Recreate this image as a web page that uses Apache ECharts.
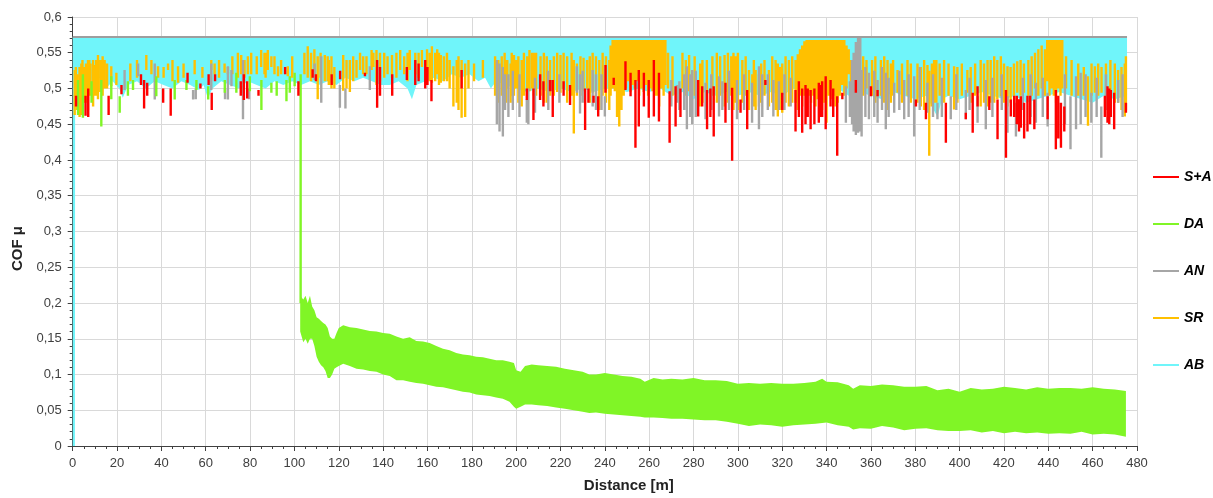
<!DOCTYPE html>
<html>
<head>
<meta charset="utf-8">
<script src="https://cdn.jsdelivr.net/npm/echarts@6/dist/echarts.min.js"></script>
<style>
  html, body { margin: 0; padding: 0; background: #fff; }
  #chart { width: 1213px; height: 498px; }
</style>
</head>
<body>
<div id="chart"></div>
<script>
// x ticks / y ticks
const xTicks = [0, 480, 20];
const yTicks = [0, 0.6, 0.05];

// AB: cyan band from the noisy lower edge up to the saturation level
const abTop = 0.572;
const abEdge = [
  [0, 0], [1, 0], [1.1, 0.52], [3, 0.515], [6, 0.52], [9, 0.505], [12, 0.515], [15, 0.5], [18, 0.51],
  [21, 0.5], [22.6, 0.487], [25, 0.505], [29, 0.51], [33, 0.5], [37, 0.51], [41, 0.505], [45, 0.5],
  [49, 0.51], [53, 0.505], [57, 0.498], [59, 0.505], [61, 0.486], [63, 0.5], [67, 0.51], [71, 0.505],
  [75, 0.5], [79, 0.51], [83, 0.505], [87, 0.5], [91, 0.51], [95, 0.505], [99, 0.51], [103, 0.505],
  [107, 0.51], [111, 0.505], [115, 0.51], [119, 0.505], [123, 0.515], [127, 0.51], [131, 0.515],
  [135, 0.51], [139, 0.505], [143, 0.505], [147, 0.51], [151, 0.5], [153, 0.485], [155, 0.505],
  [159, 0.51], [163, 0.515], [167, 0.51], [171, 0.52], [175, 0.515], [179, 0.52], [183, 0.51],
  [186, 0.515], [188.6, 0.5], [191, 0.51], [195, 0.505], [200, 0.5], [205, 0.495], [210, 0.5],
  [215, 0.495], [220, 0.5], [225, 0.495], [230, 0.5], [235, 0.495], [240, 0.5], [245, 0.5], [250, 0.495],
  [255, 0.5], [260, 0.495], [265, 0.5], [270, 0.49], [275, 0.495], [280, 0.485], [285, 0.495],
  [290, 0.49], [295, 0.495], [300, 0.49], [305, 0.495], [310, 0.49], [315, 0.495], [320, 0.49],
  [325, 0.5], [330, 0.495], [335, 0.5], [340, 0.495], [345, 0.5], [350, 0.49], [355, 0.495], [360, 0.49],
  [365, 0.485], [370, 0.495], [375, 0.49], [380, 0.485], [385, 0.49], [390, 0.46], [392, 0.485],
  [395, 0.49], [400, 0.485], [405, 0.49], [410, 0.495], [415, 0.49], [420, 0.485], [425, 0.49],
  [430, 0.48], [435, 0.485], [440, 0.49], [445, 0.495], [450, 0.49], [455, 0.485], [460, 0.48],
  [465, 0.49], [470, 0.485], [475.5, 0.49]
];

// spikes: [x, top, bottom]
const saSpikes = [
  [1.5, 0.49, 0.475], [5.8, 0.49, 0.462], [7, 0.5, 0.46], [16.2, 0.49, 0.463], [22, 0.505, 0.492],
  [30.8, 0.52, 0.505], [32.2, 0.512, 0.472], [33.6, 0.508, 0.49], [40.8, 0.5, 0.48], [44.2, 0.5, 0.462],
  [51.8, 0.522, 0.508], [57.6, 0.507, 0.5], [61.3, 0.52, 0.505], [62.7, 0.494, 0.47], [64.2, 0.52, 0.51],
  [75.8, 0.51, 0.49], [77.2, 0.52, 0.484], [78.7, 0.51, 0.486], [83.8, 0.498, 0.49], [95.8, 0.53, 0.52],
  [101.8, 0.51, 0.49], [108.2, 0.527, 0.515], [109.7, 0.52, 0.51], [116.8, 0.52, 0.505],
  [120.6, 0.525, 0.513], [131.8, 0.522, 0.517], [137.3, 0.54, 0.473], [138.6, 0.53, 0.49],
  [144.1, 0.52, 0.49], [150.7, 0.53, 0.512], [154.5, 0.54, 0.505], [156, 0.535, 0.51], [159, 0.54, 0.5],
  [160, 0.53, 0.505], [161.8, 0.512, 0.482], [175.4, 0.526, 0.5], [204.8, 0.5, 0.484], [207.8, 0.5, 0.456],
  [210.8, 0.52, 0.484], [212.3, 0.51, 0.475], [215.3, 0.512, 0.496], [216.5, 0.512, 0.46],
  [221.4, 0.51, 0.49], [224.3, 0.505, 0.477], [231.1, 0.5, 0.442], [232.6, 0.5, 0.48], [234.9, 0.49, 0.48],
  [237, 0.489, 0.461], [240.3, 0.533, 0.494], [244, 0.515, 0.505], [249.3, 0.538, 0.498],
  [251.6, 0.522, 0.489], [253.8, 0.512, 0.417], [255.3, 0.526, 0.447], [257.6, 0.522, 0.475],
  [259.8, 0.512, 0.459], [262.1, 0.54, 0.461], [264.4, 0.522, 0.454], [269.2, 0.496, 0.424],
  [271.9, 0.503, 0.447], [274.1, 0.5, 0.46], [282.1, 0.512, 0.461], [283.9, 0.503, 0.475],
  [286.1, 0.498, 0.443], [287.6, 0.5, 0.46], [289.1, 0.503, 0.433], [294.4, 0.508, 0.452],
  [297.4, 0.501, 0.399], [301.2, 0.4845, 0.466], [304.2, 0.498, 0.443], [312.4, 0.512, 0.505],
  [320, 0.494, 0.47], [326, 0.498, 0.44], [327.5, 0.51, 0.46], [329, 0.5, 0.438], [330.5, 0.505, 0.45],
  [331.5, 0.5, 0.46], [332.8, 0.498, 0.443], [334.5, 0.5, 0.45], [336.5, 0.508, 0.452], [337.2, 0.505, 0.46],
  [338, 0.51, 0.46], [339.6, 0.517, 0.443], [341.8, 0.512, 0.475], [343, 0.5, 0.46], [344.8, 0.489, 0.406],
  [347.1, 0.494, 0.485], [353.2, 0.512, 0.494],
  [360, 0.503, 0.489], [363, 0.498, 0.489], [380.3, 0.4845, 0.475], [384.8, 0.48, 0.457],
  [393.8, 0.48, 0.424], [402.8, 0.466, 0.457], [405.9, 0.494, 0.438], [408.1, 0.503, 0.475],
  [413.4, 0.489, 0.47], [417.1, 0.4845, 0.429], [420.9, 0.498, 0.403], [423.1, 0.4845, 0.461],
  [424.6, 0.49, 0.46], [425.8, 0.49, 0.45], [426.8, 0.485, 0.44], [427.6, 0.489, 0.445], [429.1, 0.48, 0.43],
  [430.6, 0.49, 0.44], [431.8, 0.49, 0.45], [433.7, 0.4845, 0.443], [439.7, 0.489, 0.457],
  [443.4, 0.498, 0.415], [444.5, 0.49, 0.43], [445.7, 0.48, 0.417], [447.2, 0.475, 0.44],
  [465.5, 0.49, 0.46], [466.7, 0.503, 0.452], [467.5, 0.5, 0.45], [468.2, 0.498, 0.46], [469.7, 0.494, 0.443],
  [475, 0.48, 0.466]
];

const daSpikes = [
  [2.4, 0.512, 0.463], [4.6, 0.52, 0.459], [8.5, 0.51, 0.48], [12.9, 0.512, 0.447], [17.4, 0.517, 0.485],
  [21.2, 0.489, 0.466], [24.9, 0.51, 0.49], [27.2, 0.512, 0.498], [37.7, 0.517, 0.489], [46, 0.512, 0.4845],
  [51.3, 0.512, 0.498], [55.8, 0.512, 0.498], [61.1, 0.503, 0.4845], [68.6, 0.512, 0.494],
  [73.8, 0.522, 0.494], [79.9, 0.517, 0.496], [85.1, 0.512, 0.47], [89.6, 0.508, 0.494], [92, 0.51, 0.49],
  [96.4, 0.512, 0.482], [97.9, 0.517, 0.494], [100.1, 0.522, 0.503], [102.8, 0.52, 0.2]
];

// DA after the drop: [x, upper, lower] of the dense oscillation
const daBand = [
  [102.6, 0.21, 0.16], [104, 0.205, 0.145], [105, 0.21, 0.15], [106, 0.2, 0.143], [107, 0.21, 0.15],
  [108, 0.195, 0.15], [109, 0.19, 0.14], [110, 0.18, 0.125], [111, 0.178, 0.118], [112, 0.175, 0.113],
  [113, 0.172, 0.11], [114, 0.17, 0.105], [115, 0.165, 0.095], [116, 0.153, 0.095], [117, 0.15, 0.1],
  [118, 0.15, 0.108], [119, 0.158, 0.11], [120, 0.165, 0.112], [122, 0.169, 0.115], [125, 0.166, 0.112],
  [128, 0.165, 0.108], [131, 0.163, 0.107], [134, 0.161, 0.105], [137, 0.16, 0.104], [140, 0.158, 0.1],
  [143, 0.157, 0.098], [146, 0.153, 0.092], [149, 0.15, 0.092], [152, 0.152, 0.09], [155, 0.147, 0.088],
  [158, 0.146, 0.087], [161, 0.144, 0.085], [164, 0.14, 0.083], [167, 0.136, 0.082], [170, 0.134, 0.08],
  [173, 0.13, 0.078], [176, 0.128, 0.076], [179, 0.127, 0.075], [182, 0.125, 0.072], [185, 0.124, 0.071],
  [188, 0.122, 0.07], [191, 0.12, 0.068], [194, 0.12, 0.066], [197, 0.118, 0.062], [199, 0.116, 0.055],
  [200, 0.106, 0.052], [202, 0.104, 0.055], [204, 0.112, 0.058], [207, 0.114, 0.058], [210, 0.113, 0.057],
  [214, 0.112, 0.056], [218, 0.111, 0.054], [222, 0.108, 0.052], [226, 0.106, 0.05], [230, 0.104, 0.048],
  [233, 0.1, 0.046], [236, 0.1, 0.047], [240, 0.102, 0.045], [244, 0.1, 0.044], [248, 0.098, 0.043],
  [252, 0.097, 0.042], [256, 0.094, 0.041], [258, 0.09, 0.04], [262, 0.095, 0.04], [266, 0.093, 0.039],
  [270, 0.094, 0.038], [275, 0.093, 0.038], [280, 0.095, 0.037], [285, 0.092, 0.036], [290, 0.092, 0.036],
  [295, 0.091, 0.034], [300, 0.087, 0.031], [305, 0.088, 0.028], [310, 0.087, 0.03], [315, 0.088, 0.029],
  [320, 0.087, 0.027], [325, 0.087, 0.029], [330, 0.088, 0.03], [335, 0.09, 0.031], [338, 0.094, 0.032],
  [340, 0.09, 0.033], [345, 0.089, 0.029], [350, 0.085, 0.027], [352, 0.08, 0.023], [355, 0.085, 0.025],
  [360, 0.084, 0.024], [365, 0.086, 0.028], [370, 0.085, 0.026], [375, 0.083, 0.022], [380, 0.083, 0.024],
  [385, 0.084, 0.025], [390, 0.078, 0.022], [395, 0.08, 0.021], [400, 0.076, 0.021], [405, 0.081, 0.022],
  [410, 0.079, 0.019], [415, 0.08, 0.021], [420, 0.083, 0.018], [425, 0.081, 0.02], [430, 0.079, 0.018],
  [435, 0.082, 0.019], [440, 0.08, 0.017], [445, 0.081, 0.018], [450, 0.081, 0.017], [455, 0.08, 0.02],
  [460, 0.082, 0.016], [465, 0.08, 0.017], [470, 0.079, 0.016], [475, 0.077, 0.013]
];

const anSpikes = [
  [23.4, 0.526, 0.498], [29.5, 0.535, 0.517], [37, 0.535, 0.4845], [54.3, 0.498, 0.4845], [55.5, 0.5, 0.485],
  [62.5, 0.535, 0.498], [68.7, 0.5, 0.485], [70, 0.531, 0.4845], [71.6, 0.526, 0.503], [76.8, 0.54, 0.457],
  [79.5, 0.5, 0.485], [109.1, 0.535, 0.512], [112.1, 0.545, 0.48], [123, 0.5, 0.472], [120.5, 0.505, 0.473],
  [134, 0.531, 0.498], [191.3, 0.54, 0.45], [192.5, 0.535, 0.44], [194, 0.53, 0.433], [195, 0.52, 0.47],
  [196.5, 0.52, 0.46], [198.5, 0.525, 0.47], [201.5, 0.52, 0.46], [204.8, 0.4845, 0.452], [205.5, 0.5, 0.45],
  [208.5, 0.515, 0.466], [214.5, 0.525, 0.47], [219.5, 0.52, 0.48], [227.4, 0.531, 0.494],
  [228.8, 0.52, 0.465], [230, 0.525, 0.48], [234.5, 0.526, 0.475], [236, 0.52, 0.47], [238.5, 0.52, 0.47],
  [240, 0.489, 0.461], [270, 0.512, 0.475], [272.5, 0.505, 0.48], [273.6, 0.51, 0.47], [275.8, 0.52, 0.47],
  [277, 0.531, 0.443], [278.5, 0.52, 0.46], [279.4, 0.526, 0.45], [281, 0.525, 0.46], [285.4, 0.508, 0.457],
  [288, 0.52, 0.47], [291.5, 0.517, 0.461], [293, 0.51, 0.47], [296, 0.525, 0.47], [299.6, 0.512, 0.457],
  [302.8, 0.52, 0.47], [306.4, 0.508, 0.452], [309.5, 0.531, 0.443], [311, 0.52, 0.46], [313.5, 0.52, 0.47],
  [316, 0.512, 0.461], [318.5, 0.51, 0.47], [321, 0.52, 0.47], [323.8, 0.515, 0.475],
  [348.7, 0.503, 0.452], [350.5, 0.51, 0.46], [351.5, 0.54, 0.45], [352.2, 0.55, 0.44], [353.2, 0.565, 0.435],
  [354.2, 0.572, 0.438], [355.2, 0.572, 0.44], [355.8, 0.526, 0.433], [357.5, 0.53, 0.46],
  [359.1, 0.522, 0.457], [361.5, 0.525, 0.46], [363, 0.512, 0.452], [365, 0.53, 0.47], [366.7, 0.522, 0.443],
  [368, 0.515, 0.46], [370.5, 0.508, 0.466], [372.8, 0.525, 0.47], [375, 0.512, 0.457], [377, 0.52, 0.46],
  [379.5, 0.517, 0.433], [382, 0.53, 0.47], [385.5, 0.508, 0.466], [388, 0.52, 0.46], [390, 0.48, 0.457],
  [392, 0.515, 0.46], [396, 0.489, 0.457], [398.5, 0.52, 0.47], [402.8, 0.498, 0.457], [404.5, 0.515, 0.47],
  [408.1, 0.489, 0.452], [411.8, 0.512, 0.443], [414.8, 0.515, 0.46], [419, 0.52, 0.47], [421.6, 0.489, 0.438],
  [425.4, 0.48, 0.433], [428.5, 0.515, 0.47], [432, 0.52, 0.46], [434.4, 0.508, 0.452], [437.5, 0.515, 0.46],
  [439.7, 0.494, 0.447], [447.5, 0.52, 0.45], [450, 0.489, 0.415], [452.5, 0.517, 0.443],
  [454.6, 0.522, 0.45], [456.8, 0.52, 0.46], [459.4, 0.494, 0.452], [461.8, 0.515, 0.46],
  [463.9, 0.475, 0.403], [466, 0.52, 0.47], [471.5, 0.512, 0.48], [473.5, 0.52, 0.46]
];
// AN also sits at the saturation level along the whole run
const anTop = [[0, 0.572], [475.5, 0.572]];

const srSpikes = [
  [0.9, 0.526, 0.463], [1.4, 0.53, 0.49], [2, 0.52, 0.47], [3.1, 0.53, 0.46], [3.9, 0.535, 0.463],
  [4.4, 0.54, 0.47], [5, 0.53, 0.48], [6, 0.535, 0.48], [6.9, 0.54, 0.47], [7.5, 0.54, 0.49], [8, 0.535, 0.49],
  [9.2, 0.54, 0.475], [9.9, 0.533, 0.49], [10.6, 0.54, 0.49], [11.4, 0.547, 0.485], [12.5, 0.54, 0.495],
  [13.5, 0.545, 0.49], [14.4, 0.54, 0.5], [15.5, 0.535, 0.5], [17.4, 0.531, 0.503], [19.7, 0.522, 0.505],
  [26, 0.535, 0.51], [29, 0.54, 0.515], [33.2, 0.547, 0.526], [35.5, 0.54, 0.52], [38.5, 0.531, 0.515],
  [41, 0.53, 0.515], [43, 0.535, 0.526], [45, 0.54, 0.51], [47.5, 0.531, 0.508], [50, 0.535, 0.515],
  [55, 0.54, 0.52], [58.5, 0.53, 0.515], [62.5, 0.54, 0.526], [64, 0.535, 0.52], [66, 0.54, 0.515],
  [68.5, 0.535, 0.522], [70, 0.53, 0.52], [72, 0.545, 0.52], [74.5, 0.55, 0.515], [76, 0.547, 0.52],
  [77.5, 0.54, 0.515], [79, 0.545, 0.52], [80.5, 0.55, 0.52], [83, 0.545, 0.52], [85, 0.554, 0.53],
  [86.5, 0.55, 0.52], [87, 0.55, 0.515], [88, 0.554, 0.526], [89.6, 0.545, 0.53], [91, 0.545, 0.52],
  [92.6, 0.531, 0.517], [94, 0.54, 0.52], [97, 0.531, 0.517], [99, 0.545, 0.515], [104.5, 0.55, 0.52],
  [106, 0.559, 0.515], [107.5, 0.55, 0.51], [109, 0.555, 0.52], [110.5, 0.545, 0.485], [111.8, 0.55, 0.515],
  [113.7, 0.547, 0.51], [115, 0.545, 0.51], [115.5, 0.54, 0.505], [116.7, 0.545, 0.5], [118, 0.53, 0.5],
  [122, 0.547, 0.497], [123.5, 0.54, 0.5], [125, 0.54, 0.495], [126.5, 0.545, 0.51], [128, 0.54, 0.515],
  [129.6, 0.55, 0.526], [131, 0.545, 0.52], [132.5, 0.545, 0.52], [134.8, 0.554, 0.526], [135.6, 0.55, 0.53],
  [137, 0.554, 0.505], [138.6, 0.55, 0.51], [140.5, 0.55, 0.515], [142, 0.545, 0.52], [144, 0.547, 0.515],
  [146, 0.55, 0.515], [147.7, 0.554, 0.526], [149.5, 0.545, 0.52], [151, 0.55, 0.51], [152, 0.554, 0.526],
  [154.5, 0.55, 0.52], [156, 0.55, 0.515], [157.5, 0.554, 0.53], [159.8, 0.555, 0.52], [161, 0.55, 0.51],
  [162, 0.559, 0.508], [163.5, 0.55, 0.51], [164.4, 0.555, 0.52], [165.2, 0.55, 0.505], [166, 0.547, 0.508],
  [167.4, 0.545, 0.51], [168.8, 0.55, 0.51], [170, 0.54, 0.5], [171.7, 0.531, 0.475], [173.2, 0.54, 0.48],
  [174, 0.545, 0.47], [175.4, 0.54, 0.459], [177, 0.535, 0.46], [178.5, 0.54, 0.5], [181, 0.535, 0.51],
  [185, 0.54, 0.515], [190.5, 0.545, 0.49], [192, 0.54, 0.48], [193.5, 0.545, 0.49], [194.8, 0.55, 0.47],
  [195.5, 0.54, 0.48], [196, 0.54, 0.5], [197.5, 0.535, 0.48], [198, 0.55, 0.49], [199, 0.547, 0.49],
  [200, 0.54, 0.5], [201, 0.545, 0.48], [202.5, 0.54, 0.475], [203.5, 0.55, 0.49], [205, 0.545, 0.48],
  [206, 0.554, 0.496], [207.2, 0.55, 0.5], [208, 0.55, 0.49], [209, 0.55, 0.49], [211, 0.545, 0.49],
  [212.5, 0.55, 0.48], [213.8, 0.545, 0.48], [215.3, 0.54, 0.49], [217, 0.545, 0.49], [218.5, 0.55, 0.495],
  [220, 0.547, 0.494], [221.4, 0.55, 0.5], [223, 0.545, 0.48], [225, 0.55, 0.49], [226, 0.54, 0.437],
  [227.4, 0.535, 0.49], [229, 0.545, 0.49], [230.4, 0.543, 0.496], [232, 0.54, 0.5], [233.2, 0.545, 0.48],
  [234.5, 0.55, 0.494], [236, 0.545, 0.48], [237.5, 0.54, 0.47], [239, 0.55, 0.49], [240.5, 0.545, 0.48],
  [242, 0.54, 0.47],
  [242.6, 0.56, 0.49], [243.5, 0.568, 0.5], [244.5, 0.568, 0.496], [245.5, 0.568, 0.46], [246.5, 0.568, 0.447],
  [247.5, 0.568, 0.47], [248.5, 0.568, 0.49], [249.5, 0.568, 0.5], [250.5, 0.568, 0.51], [251.5, 0.568, 0.495],
  [252.5, 0.568, 0.505], [253.5, 0.568, 0.5], [254.5, 0.568, 0.51], [255.5, 0.568, 0.49], [256.5, 0.568, 0.5],
  [257.5, 0.568, 0.495], [258.5, 0.568, 0.505], [259.5, 0.568, 0.49], [260.5, 0.568, 0.5], [261.5, 0.568, 0.496],
  [262.5, 0.568, 0.49], [263.5, 0.568, 0.49], [264.5, 0.568, 0.475], [265.5, 0.568, 0.5], [266.5, 0.568, 0.49],
  [267.3, 0.568, 0.505],
  [268.5, 0.55, 0.5], [270.5, 0.545, 0.49], [275, 0.55, 0.5], [276.5, 0.54, 0.49], [278, 0.547, 0.496],
  [280.5, 0.545, 0.49], [283, 0.535, 0.475], [284, 0.54, 0.48], [286, 0.54, 0.48], [288.5, 0.545, 0.49],
  [290.5, 0.55, 0.48], [292, 0.545, 0.49], [294, 0.547, 0.475], [295.5, 0.55, 0.48], [297, 0.545, 0.49],
  [298, 0.55, 0.47], [299, 0.545, 0.48], [300, 0.55, 0.47], [302, 0.54, 0.48], [303.5, 0.545, 0.49],
  [305, 0.526, 0.47], [306.5, 0.52, 0.475], [307.2, 0.54, 0.475], [308, 0.526, 0.47], [309.5, 0.52, 0.475],
  [310.5, 0.535, 0.48], [312, 0.54, 0.49], [314, 0.526, 0.475], [315.5, 0.545, 0.48], [317, 0.54, 0.47],
  [318, 0.535, 0.461], [319, 0.53, 0.47], [320, 0.535, 0.466], [321.5, 0.545, 0.48], [323, 0.54, 0.475],
  [324.5, 0.545, 0.48],
  [326, 0.54, 0.48], [327, 0.548, 0.47], [328, 0.555, 0.49], [329, 0.56, 0.475], [330, 0.566, 0.49],
  [331, 0.568, 0.47], [332, 0.568, 0.49], [333, 0.568, 0.48], [334, 0.568, 0.49], [335, 0.568, 0.475],
  [336, 0.568, 0.485], [337, 0.568, 0.49], [338, 0.568, 0.47], [339, 0.568, 0.48], [340, 0.568, 0.452],
  [341, 0.568, 0.49], [342, 0.568, 0.485], [343, 0.568, 0.49], [344, 0.568, 0.475], [345, 0.568, 0.48],
  [346, 0.568, 0.49], [347, 0.568, 0.505], [348, 0.568, 0.49], [349, 0.56, 0.5], [350, 0.555, 0.52],
  [351, 0.54, 0.5], [356.5, 0.545, 0.49], [358, 0.54, 0.5], [360.5, 0.54, 0.49], [362, 0.545, 0.48],
  [364.5, 0.54, 0.49], [366, 0.545, 0.48], [367.5, 0.54, 0.47], [369, 0.535, 0.48], [370, 0.54, 0.49],
  [372, 0.526, 0.494], [374, 0.535, 0.48], [376.5, 0.54, 0.49], [378, 0.535, 0.48], [381, 0.535, 0.48],
  [382.5, 0.53, 0.475], [384, 0.54, 0.47], [385.5, 0.533, 0.47], [386.3, 0.525, 0.406], [387.5, 0.535, 0.475],
  [388.5, 0.54, 0.48], [389.5, 0.54, 0.48], [391, 0.535, 0.49], [393, 0.54, 0.48], [395, 0.535, 0.49],
  [397.5, 0.531, 0.4706], [399, 0.53, 0.48], [401, 0.535, 0.49], [403.5, 0.526, 0.494], [405, 0.53, 0.48],
  [407, 0.535, 0.49], [409.5, 0.54, 0.475], [411, 0.535, 0.48], [412.6, 0.54, 0.475], [414, 0.54, 0.48],
  [415.6, 0.545, 0.48], [417, 0.54, 0.485], [418.6, 0.545, 0.489], [420, 0.535, 0.48], [421.6, 0.531, 0.475],
  [423, 0.53, 0.48], [424.5, 0.535, 0.49], [426, 0.538, 0.494], [427.5, 0.54, 0.49], [429, 0.535, 0.494],
  [431, 0.54, 0.49], [432.5, 0.545, 0.49], [434, 0.55, 0.5], [435.5, 0.555, 0.49], [437, 0.56, 0.5],
  [438.5, 0.555, 0.49],
  [439.5, 0.568, 0.51], [440.5, 0.568, 0.49], [441.5, 0.568, 0.5], [442.5, 0.568, 0.49], [443.5, 0.568, 0.48],
  [444.5, 0.568, 0.5], [445.5, 0.568, 0.49], [446.3, 0.568, 0.5],
  [448, 0.545, 0.5], [450.5, 0.54, 0.49], [453.5, 0.535, 0.49], [456, 0.53, 0.49], [457.9, 0.517, 0.448],
  [459.5, 0.535, 0.49], [461, 0.531, 0.494], [462.5, 0.535, 0.49], [464, 0.53, 0.494], [466, 0.535, 0.49],
  [468, 0.54, 0.49], [470, 0.535, 0.48], [471.5, 0.526, 0.48], [473, 0.53, 0.47], [474.5, 0.535, 0.461],
  [475, 0.545, 0.47]
];

const colors = { sa: '#FF0000', da: '#80F526', an: '#A6A6A6', sr: '#FFC000', ab: '#70F5FA' };

// each spike is a vertical segment, broken from the next one with an empty value
function toSegments(list) {
  const out = [];
  list.forEach(s => {
    out.push([s[0], s[1]], [s[0], s[2]], [s[0], '-']);
  });
  return out;
}

function spikeSeries(name, list, color) {
  return {
    name: name,
    type: 'line',
    data: toSegments(list),
    showSymbol: false,
    connectNulls: false,
    color: color,
    lineStyle: { color: color, width: 2.4 },
  };
}

// filled band: the outline goes along the top edge and back along the bottom edge
function bandSeries(name, data, topOf, bottomOf, color) {
  return {
    name: name,
    type: 'custom',
    color: color,
    itemStyle: { color: color },
    clip: true,
    data: data.map(p => [p[0], topOf(p), bottomOf(p)]),
    encode: { x: 0, y: [1, 2] },
    renderItem: function (params, api) {
      if (params.dataIndex !== 0) return;
      const upper = data.map(p => api.coord([p[0], topOf(p)]));
      const lower = data.map(p => api.coord([p[0], bottomOf(p)])).reverse();
      return {
        type: 'polygon',
        shape: { points: upper.concat(lower) },
        style: { fill: color, stroke: null },
      };
    },
  };
}

const chart = echarts.init(document.getElementById('chart'));

const option = {
  animation: false,
  grid: { left: 72.7, right: 76, top: 17, bottom: 50 },
  legend: {
    data: ['S+A', 'DA', 'AN', 'SR', 'AB'],
    orient: 'vertical',
    left: 1148,
    top: 165,
    icon: 'rect',
    itemWidth: 26,
    itemHeight: 2,
    itemGap: 33,
    textStyle: { fontFamily: 'Liberation Sans', fontSize: 14, fontWeight: 'bold', fontStyle: 'italic', color: '#000' },
  },
  xAxis: {
    type: 'value',
    min: xTicks[0],
    max: xTicks[1],
    interval: xTicks[2],
    name: 'Distance [m]',
    nameLocation: 'middle',
    nameGap: 32,
    nameTextStyle: { fontFamily: 'Liberation Sans', fontSize: 15, fontWeight: 'bold', color: '#222', padding: [0, 0, 0, 48] },
    axisLine: { lineStyle: { color: '#404040', width: 1 } },
    axisTick: { length: 5, lineStyle: { color: '#404040' } },
    minorTick: { show: true, splitNumber: 4, length: 3, lineStyle: { color: '#404040' } },
    axisLabel: { margin: 11, fontFamily: 'Liberation Sans', fontSize: 13, color: '#404040' },
    splitLine: { show: true, lineStyle: { color: '#D9D9D9' } },
  },
  yAxis: {
    type: 'value',
    min: yTicks[0],
    max: yTicks[1],
    interval: yTicks[2],
    name: 'COF μ',
    nameLocation: 'middle',
    nameGap: 44,
    nameRotate: 90,
    nameTextStyle: { fontFamily: 'Liberation Sans', fontSize: 15, fontWeight: 'bold', color: '#222', padding: [0, 34, 0, 0] },
    axisLine: { show: true, lineStyle: { color: '#404040', width: 1 } },
    axisTick: { show: true, length: 5, lineStyle: { color: '#404040' } },
    minorTick: { show: true, splitNumber: 5, length: 3, lineStyle: { color: '#404040' } },
    axisLabel: {
      margin: 11,
      fontFamily: 'Liberation Sans',
      fontSize: 13,
      color: '#404040',
      formatter: v => String(+v.toFixed(2)).replace('.', ','),
    },
    splitLine: { show: true, lineStyle: { color: '#D9D9D9' } },
  },
  series: [
    bandSeries('AB', abEdge, () => abTop, p => p[1], colors.ab),
    bandSeries('DA', daBand, p => p[1], p => p[2], colors.da),
    spikeSeries('SR', srSpikes, colors.sr),
    spikeSeries('AN', anSpikes, colors.an),
    {
      name: 'AN', type: 'line', showSymbol: false, color: colors.an,
      data: anTop,
      lineStyle: { color: '#9E9E9E', width: 2 },
    },
    spikeSeries('DA', daSpikes, colors.da),
    spikeSeries('S+A', saSpikes, colors.sa),
  ],
};

chart.setOption(option);
</script>
</body>
</html>
